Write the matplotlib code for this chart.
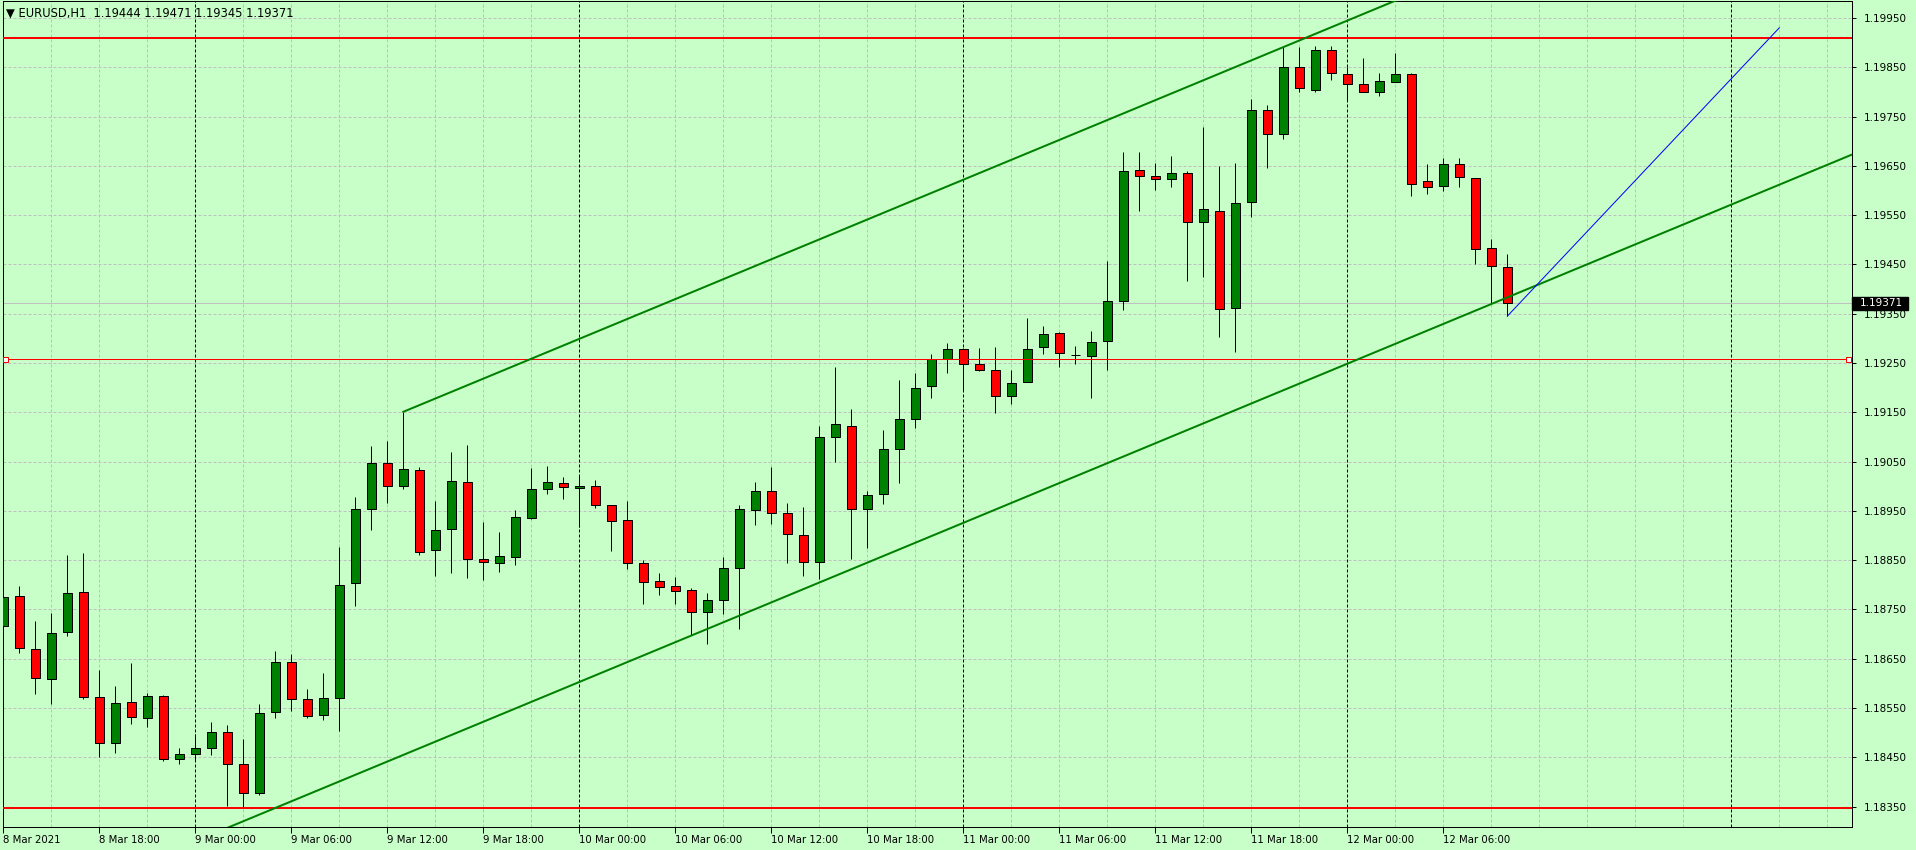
import matplotlib
matplotlib.use("Agg")
import matplotlib.pyplot as plt
import matplotlib.transforms as mtransforms
from matplotlib.patches import Rectangle
from matplotlib import font_manager

# ---------------- data ----------------
header_text = "\u25bc EURUSD,H1  1.19444 1.19471 1.19345 1.19371"

opens = [1.18717, 1.18777, 1.18669, 1.18610, 1.18704, 1.18785, 1.18572, 1.18479, 1.18562, 1.18529,
         1.18574, 1.18446, 1.18456, 1.18470, 1.18501, 1.18436, 1.18377, 1.18543, 1.18643, 1.18568,
         1.18535, 1.18570, 1.18803, 1.18953, 1.19047, 1.19001, 1.19032, 1.18870, 1.18913, 1.19008,
         1.18852, 1.18844, 1.18856, 1.18935, 1.18994, 1.19006, 1.18996, 1.19000, 1.18961, 1.18931,
         1.18844, 1.18807, 1.18797, 1.18789, 1.18744, 1.18769, 1.18834, 1.18951, 1.18990, 1.18945,
         1.18902, 1.18846, 1.19099, 1.19122, 1.18953, 1.18984, 1.19075, 1.19136, 1.19203, 1.19259,
         1.19278, 1.19247, 1.19235, 1.19184, 1.19211, 1.19282, 1.19310, 1.19267, 1.19265, 1.19294,
         1.19375, 1.19641, 1.19629, 1.19623, 1.19635, 1.19535, 1.19558, 1.19361, 1.19576, 1.19763,
         1.19714, 1.19850, 1.19803, 1.19884, 1.19836, 1.19815, 1.19799, 1.19821, 1.19836, 1.19619,
         1.19610, 1.19653, 1.19625, 1.19483, 1.19444]
highs = [1.18800, 1.18798, 1.18727, 1.18743, 1.18861, 1.18865, 1.18627, 1.18595, 1.18641, 1.18580,
         1.18576, 1.18470, 1.18497, 1.18522, 1.18516, 1.18487, 1.18558, 1.18666, 1.18660, 1.18589,
         1.18621, 1.18877, 1.18978, 1.19082, 1.19092, 1.19151, 1.19039, 1.18970, 1.19070, 1.19084,
         1.18928, 1.18907, 1.18951, 1.19036, 1.19042, 1.19018, 1.19021, 1.19012, 1.18962, 1.18970,
         1.18850, 1.18825, 1.18815, 1.18793, 1.18783, 1.18856, 1.18961, 1.19008, 1.19039, 1.18966,
         1.18958, 1.19122, 1.19242, 1.19156, 1.18990, 1.19114, 1.19215, 1.19229, 1.19268, 1.19290,
         1.19280, 1.19280, 1.19282, 1.19236, 1.19341, 1.19325, 1.19312, 1.19284, 1.19315, 1.19456,
         1.19679, 1.19679, 1.19655, 1.19670, 1.19639, 1.19728, 1.19649, 1.19655, 1.19785, 1.19773,
         1.19892, 1.19892, 1.19893, 1.19893, 1.19850, 1.19868, 1.19838, 1.19879, 1.19838, 1.19653,
         1.19665, 1.19665, 1.19625, 1.19501, 1.19471]
lows = [1.18661, 1.18662, 1.18579, 1.18559, 1.18697, 1.18568, 1.18450, 1.18458, 1.18518, 1.18512,
        1.18443, 1.18436, 1.18443, 1.18455, 1.18351, 1.18349, 1.18374, 1.18529, 1.18545, 1.18529,
        1.18525, 1.18504, 1.18758, 1.18912, 1.18967, 1.18995, 1.18861, 1.18817, 1.18825, 1.18813,
        1.18809, 1.18827, 1.18841, 1.18933, 1.18985, 1.18975, 1.18918, 1.18955, 1.18869, 1.18833,
        1.18762, 1.18780, 1.18762, 1.18699, 1.18681, 1.18740, 1.18711, 1.18921, 1.18924, 1.18845,
        1.18817, 1.18812, 1.19050, 1.18853, 1.18875, 1.18963, 1.19007, 1.19119, 1.19180, 1.19230,
        1.19194, 1.19234, 1.19149, 1.19166, 1.19211, 1.19269, 1.19241, 1.19247, 1.19180, 1.19235,
        1.19358, 1.19559, 1.19600, 1.19606, 1.19417, 1.19425, 1.19303, 1.19273, 1.19547, 1.19646,
        1.19705, 1.19799, 1.19800, 1.19825, 1.19781, 1.19799, 1.19791, 1.19821, 1.19588, 1.19592,
        1.19598, 1.19606, 1.19450, 1.19371, 1.19345]
closes = [1.18775, 1.18671, 1.18612, 1.18702, 1.18783, 1.18572, 1.18479, 1.18560, 1.18531, 1.18574,
          1.18446, 1.18456, 1.18470, 1.18501, 1.18436, 1.18377, 1.18541, 1.18643, 1.18568, 1.18533,
          1.18570, 1.18799, 1.18953, 1.19047, 1.19000, 1.19034, 1.18867, 1.18911, 1.19010, 1.18852,
          1.18846, 1.18858, 1.18937, 1.18994, 1.19008, 1.18998, 1.19000, 1.18961, 1.18929, 1.18844,
          1.18805, 1.18795, 1.18787, 1.18744, 1.18769, 1.18834, 1.18953, 1.18990, 1.18945, 1.18904,
          1.18846, 1.19099, 1.19126, 1.18953, 1.18982, 1.19075, 1.19136, 1.19199, 1.19259, 1.19278,
          1.19247, 1.19235, 1.19184, 1.19209, 1.19278, 1.19308, 1.19270, 1.19267, 1.19292, 1.19375,
          1.19639, 1.19629, 1.19623, 1.19635, 1.19535, 1.19562, 1.19359, 1.19574, 1.19763, 1.19715,
          1.19850, 1.19807, 1.19884, 1.19838, 1.19815, 1.19799, 1.19823, 1.19836, 1.19614, 1.19608,
          1.19653, 1.19627, 1.19481, 1.19446, 1.19371]

time_labels = ["8 Mar 2021", "8 Mar 18:00", "9 Mar 00:00", "9 Mar 06:00", "9 Mar 12:00",
               "9 Mar 18:00", "10 Mar 00:00", "10 Mar 06:00", "10 Mar 12:00", "10 Mar 18:00",
               "11 Mar 00:00", "11 Mar 06:00", "11 Mar 12:00", "11 Mar 18:00", "12 Mar 00:00",
               "12 Mar 06:00"]
label_bar_indices = [0, 6, 12, 18, 24, 30, 36, 42, 48, 54, 60, 66, 72, 78, 84, 90]
day_separator_indices = [12, 36, 60, 84, 108]

price_ticks = [1.18350, 1.18450, 1.18550, 1.18650, 1.18750, 1.18850, 1.18950, 1.19050, 1.19150,
               1.19250, 1.19350, 1.19450, 1.19550, 1.19650, 1.19750, 1.19850, 1.19950]

red_levels_thick = [1.19910, 1.18347]
red_level_thin = 1.19258
current_price = 1.19371

channel_upper_pts = [(25, 1.19151), (85, 1.19958)]
channel_width = 0.00696
blue_line_pts = [(94, 1.19345), (111, 1.19930)]

# ---------------- style ----------------
W, H = 1916, 850
BG = "#C8FFC8"
BULL = "#008000"
BEAR = "#FF0000"
PX = 72.0 / 100.0  # one pixel in points

names = {f.name for f in font_manager.fontManager.ttflist}
if "Liberation Sans Narrow" in names:
    xfont, xsize = "Liberation Sans Narrow", 9.8
else:
    xfont, xsize = "DejaVu Sans", 7.3

fig = plt.figure(figsize=(W / 100, H / 100), dpi=100, facecolor=BG)
ax_left, ax_right, ax_top, ax_bottom = 2.5, 1852.3, 1.0, 826.7
ax = fig.add_axes([ax_left / W, 1 - ax_bottom / H, (ax_right - ax_left) / W, (ax_bottom - ax_top) / H])
ax.set_facecolor(BG)

x_min, x_max = -0.05, 115.56
y_min, y_max = 1.183094, 1.199843
ax.set_xlim(x_min, x_max)
ax.set_ylim(y_min, y_max)

# grid
grid_col = "#C0C0C0"
for p in price_ticks:
    ax.axhline(p, color=grid_col, lw=PX, dashes=(3, 2), zorder=0.5)
for i in range(0, 116, 3):
    if i in day_separator_indices:
        continue
    ax.axvline(i, color=grid_col, lw=PX, dashes=(3, 2), zorder=0.5)
for i in day_separator_indices:
    ax.axvline(i, color="black", lw=PX, dashes=(3, 2), zorder=0.6)

# current price line
ax.axhline(current_price, color="#C0C0C0", lw=PX, zorder=0.7)

# candles
n = len(opens)
xs = list(range(n))
ax.vlines(xs, lows, highs, color="black", lw=PX, zorder=2)
bottoms, heights, colors = [], [], []
for o, c in zip(opens, closes):
    bottoms.append(min(o, c))
    heights.append(abs(c - o))
    colors.append(BULL if c > o else (BEAR if c < o else "black"))
ax.bar(xs, heights, bottom=bottoms, width=0.56, color=colors, edgecolor="black",
       linewidth=PX, zorder=3)

# horizontal red levels
for lvl in red_levels_thick:
    ax.axhline(lvl, color=BEAR, lw=2 * PX, zorder=4)
ax.axhline(red_level_thin, color=BEAR, lw=PX, zorder=4)
ax.plot([0.12, 115.3], [red_level_thin, red_level_thin], ls="none", marker="s", ms=3.6,
        mfc="white", mec=BEAR, mew=PX, zorder=5, clip_on=False)

# channel
(x1, y1), (x2, y2) = channel_upper_pts
slope = (y2 - y1) / (x2 - x1)
xe = 140
ax.plot([x1, xe], [y1, y1 + slope * (xe - x1)], color=BULL, lw=2 * PX, zorder=4)
xs0 = 0
ax.plot([xs0, xe], [y1 - channel_width + slope * (xs0 - x1), y1 - channel_width + slope * (xe - x1)],
        color=BULL, lw=2 * PX, zorder=4)

# blue trendline
ax.plot([p[0] for p in blue_line_pts], [p[1] for p in blue_line_pts], color="#0000FF", lw=PX, zorder=4)

# axes styling
for s in ax.spines.values():
    s.set_color("black")
    s.set_linewidth(PX)
ax.yaxis.tick_right()
ax.set_yticks(price_ticks)
ax.set_yticklabels([f"{p:.5f}" for p in price_ticks])
ax.tick_params(axis="y", direction="out", length=3, width=PX, pad=5, labelsize=7.5, colors="black")
ax.set_xticks(label_bar_indices)
ax.set_xticklabels(time_labels)
ax.tick_params(axis="x", direction="out", length=4, width=PX, pad=2, labelsize=xsize, colors="black")
for lab in ax.get_xticklabels():
    lab.set_ha("left")
    lab.set_fontfamily(xfont)
for lab in ax.get_yticklabels():
    lab.set_fontfamily("DejaVu Sans")

# current price box
trans = mtransforms.blended_transform_factory(ax.transAxes, ax.transData)
axw = ax_right - ax_left
box_h = 13.5 / 49.3 * 0.001
ax.add_patch(Rectangle((1.0, current_price - box_h / 2), 56 / axw, box_h, transform=trans,
                       facecolor="black", edgecolor="black", clip_on=False, zorder=10))
ax.text(1.0 + 8 / axw, current_price, f"{current_price:.5f}", transform=trans, ha="left", va="center",
        color="white", fontsize=7.5, family="DejaVu Sans", zorder=11, clip_on=False)

# header
fig.text(6 / W, 1 - 13 / H, header_text, ha="left", va="center", fontsize=8.3,
         family="DejaVu Sans", color="black")

fig.savefig("out.png", dpi=100, facecolor=BG)
